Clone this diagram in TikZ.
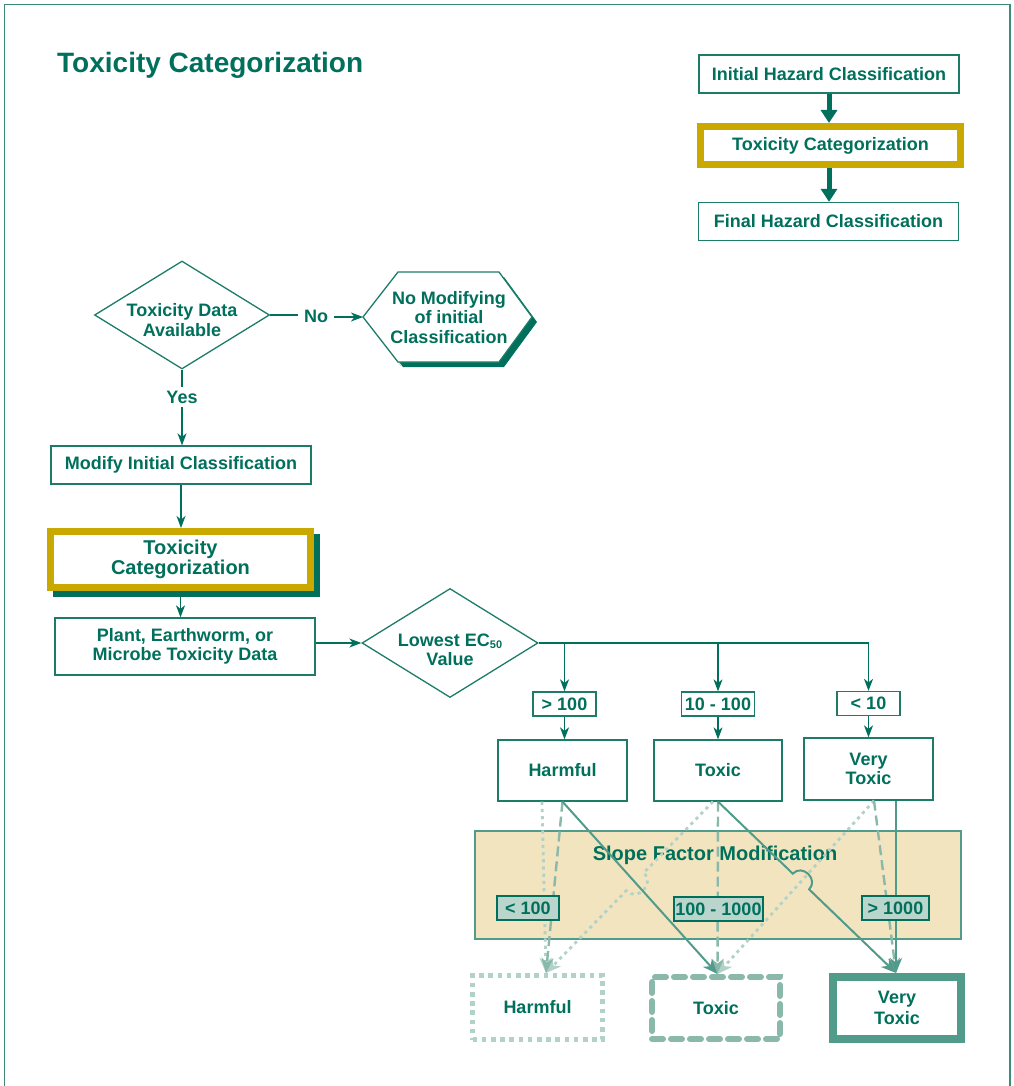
\documentclass[tikz,border=0pt]{standalone}
\usepackage{fontspec}
\setmainfont{Liberation Sans}
\usetikzlibrary{shapes.geometric,arrows.meta,calc}

\definecolor{ink}{RGB}{0,112,92}
\definecolor{edge}{RGB}{28,124,104}
\definecolor{frameline}{RGB}{60,140,120}
\definecolor{midteal}{RGB}{80,155,138}
\definecolor{dashteal}{RGB}{138,184,170}
\definecolor{dotteal}{RGB}{178,210,200}
\definecolor{goldrim}{RGB}{201,168,0}
\definecolor{sandfill}{RGB}{242,228,191}
\definecolor{chipfill}{RGB}{186,214,204}

\tikzset{
  lbl/.style={font=\bfseries\fontsize{18}{19.5}\selectfont, text=ink, align=center},
  flowbox/.style={lbl, draw=edge, line width=1.3pt, fill=white, inner sep=0pt},
  goldframe/.style={lbl, draw=goldrim, line width=7pt, fill=white, inner sep=0pt},
  decision/.style={diamond, draw=edge, line width=1.3pt, fill=white, inner sep=0pt},
  rangetag/.style={flowbox, minimum height=24pt},
  slopetag/.style={rangetag, fill=chipfill, draw=ink},
  link/.style={draw=ink, line width=1.3pt},
  linkarrow/.style={link, -{Stealth[length=12pt,width=9pt,inset=3.5pt]}},
  heavyarrow/.style={draw=ink, line width=5pt, -{Triangle[length=13pt,width=16pt]}},
  lowtip/.style={-{Stealth[length=15pt,width=12pt,inset=4.5pt]}},
  sfsolid/.style={draw=midteal, line width=2pt, lowtip},
  sfdash/.style={draw=dashteal, line width=2.4pt, dash pattern=on 10pt off 5pt, lowtip},
  sfdot/.style={draw=dotteal, line width=2.8pt, dash pattern=on 3.2pt off 4pt, lowtip},
}

\begin{document}
\begin{tikzpicture}[x=1pt,y=-1pt]
\useasboundingbox (0,0) rectangle (1013,1086);
% page frame
\draw[frameline, line width=1.2pt] (4.5,1086) -- (4.5,4.5) -- (1010,4.5) -- (1010,1086);

% heading
\node[lbl, font=\bfseries\fontsize{28}{32}\selectfont, anchor=base west, inner sep=0pt] (title) at (57,73) {Toxicity Categorization};

% overview chain
\node[flowbox, minimum width=260pt, minimum height=38pt] (ihc) at (829,74) {Initial Hazard Classification};
\node[goldframe, minimum width=260pt, minimum height=38pt] (tcg) at (830.5,145.5) {Toxicity Categorization};
\node[flowbox, minimum width=260pt, minimum height=38pt] (fhc) at (828.5,221.5) {Final Hazard Classification};
\draw[heavyarrow] (ihc.south) -- (ihc.south |- tcg.north);
\draw[heavyarrow] (tcg.south -| ihc.south) -- (ihc.south |- fhc.north);

% first decision
\node[decision, minimum width=175pt, minimum height=108pt,
      label={[lbl, yshift=-5pt]center:Toxicity Data\\Available}] (tda) at (182,315) {};
\node[lbl, inner sep=6pt] (no) at (316,316) {No};
\draw[link] (tda.east) -- (tda.east -| no.west);

% no-change outcome (hexagon with offset shadow)
\coordinate (hexW) at (363,317);
\fill[ink, shift={(5,5)}] (363,317) -- (398,272) -- (499,272) -- (532,317) -- (499,362) -- (398,362) -- cycle;
\fill[ink] (363,317) -- (398,362) -- (401,366) -- (367,321) -- cycle;
\draw[edge, line width=1.3pt, fill=white] (hexW) -- (398,272) -- (499,272) -- (532,317) -- (499,362) -- (398,362) -- cycle;
\node[lbl] (nomod) at (449,317.5) {No Modifying\\of initial\\Classification};
\draw[linkarrow] (no.east |- hexW) -- (hexW);

% yes branch
\node[lbl, inner xsep=2pt, inner ysep=3.5pt] (yes) at (182,397) {Yes};
\draw[link] (tda.south) -- (yes.north);
\node[flowbox, minimum width=260pt, minimum height=38pt] (mic) at (181,465) {Modify Initial Classification};
\draw[linkarrow] (yes.south) -- (yes.south |- mic.north);

\fill[ink] (53,534) rectangle (320,597);
\node[goldframe, font=\bfseries\fontsize{20}{20.5}\selectfont, minimum width=260pt, minimum height=56pt] (tcl) at (180.5,559.5) {Toxicity\\Categorization};
\draw[linkarrow] (mic.south) -- (mic.south |- tcl.north);

\node[flowbox, minimum width=260pt, minimum height=57pt] (pem) at (185,646.5) {Plant, Earthworm, or\\Microbe Toxicity Data};
\draw[linkarrow] (tcl.south) -- (tcl.south |- pem.north);

% EC50 decision
\node[decision, minimum width=176pt, minimum height=109pt,
      label={[lbl, yshift=-7pt]center:Lowest EC{\fontsize{11}{11}\selectfont\raisebox{-2pt}{50}}\\Value}] (ec) at (450,643) {};
\draw[linkarrow] (pem.east |- ec.west) -- (ec.west);

\node[rangetag, minimum width=63pt] (r1) at (564.5,704) {> 100};
\node[rangetag, minimum width=73pt] (r2) at (718,704) {10 - 100};
\node[rangetag, minimum width=63pt] (r3) at (868.5,703.5) {< 10};
\draw[link] (ec.east) -- (ec.east -| r3.north);
\foreach \r in {r1,r2,r3} \draw[linkarrow] (ec.east -| \r.north) -- (\r.north);

\node[flowbox, minimum width=129pt, minimum height=61pt] (hT) at (562.5,770.5) {Harmful};
\node[flowbox, minimum width=128pt, minimum height=61pt] (tT) at (718,770.5) {Toxic};
\node[flowbox, minimum width=129pt, minimum height=62pt] (vT) at (868.5,769) {Very\\Toxic};
\draw[linkarrow] (r1.south) -- (r1.south |- hT.north);
\draw[linkarrow] (r2.south) -- (r2.south |- tT.north);
\draw[linkarrow] (r3.south) -- (r3.south |- vT.north);

% slope factor band
\node[draw=midteal, fill=sandfill, line width=1.3pt, minimum width=486pt, minimum height=108pt, inner sep=0pt] (sf) at (718,885) {};
\node[lbl, font=\bfseries\fontsize{20}{22}\selectfont] (sfname) at (715,855) {Slope Factor Modification};

% final categories
\node[lbl, draw=dotteal, line width=5pt, dash pattern=on 4.6pt off 4.6pt, minimum width=130pt, minimum height=64pt, inner sep=0pt] (hB) at (537.5,1007.5) {Harmful};
\node[lbl, draw=dashteal, line width=6pt, line cap=round, dash pattern=on 11pt off 8pt, minimum width=128pt, minimum height=62pt, inner sep=0pt] (tB) at (716,1008) {Toxic};
\node[lbl, font=\bfseries\fontsize{18}{21}\selectfont, draw=midteal, line width=8pt, minimum width=128pt, minimum height=62pt, inner sep=0pt] (vB) at (897,1008) {Very\\Toxic};

% connector ends
\coordinate (hBin) at ($(hB.north)+(8.5,0)$);
\coordinate (tBin) at ($(tB.north)+(1.5,0)$);
\coordinate (vBin) at ($(vB.north)+(-1,0)$);
\coordinate (hTl) at ($(hT.south)+(-20.5,0)$);
\coordinate (tTl) at ($(tT.south)+(-5,0)$);
\coordinate (vTl) at ($(vT.south)+(5.5,0)$);
\coordinate (vTr) at ($(vT.south)+(27.5,0)$);

% dotted: step down one category
\draw[sfdot] (hTl) -- (hBin);
\path ($(tTl)!0.415!(hBin)$) coordinate (hopB1) ($(tTl)!0.52!(hBin)$) coordinate (hopB2);
\draw[sfdot] (tTl) -- (hopB1) .. controls ($(hopB1)!16pt!90:(hBin)$) and ($(hopB2)!16pt!-90:(tTl)$) .. (hopB2) -- (hBin);
\draw[sfdot] (vTl) -- (tBin);

% dashed: unchanged category
\draw[sfdash] (hT.south) -- (hBin);
\draw[sfdash] (tT.south) -- (tBin);
\draw[sfdash] (vTl) -- (vBin);

% solid: step up one category
\draw[sfsolid] (hT.south) -- (tBin);
\path ($(tT.south)!0.42!(vBin)$) coordinate (hopA1) ($(tT.south)!0.512!(vBin)$) coordinate (hopA2);
\draw[sfsolid] (tT.south) -- (hopA1) .. controls ($(hopA1)!14pt!90:(vBin)$) and ($(hopA2)!14pt!-90:(tT.south)$) .. (hopA2) -- (vBin);
\draw[sfsolid] (vTr) -- (vTr |- vB.north);

% slope ranges
\node[slopetag, minimum width=62pt] (s1) at (528,908) {< 100};
\node[slopetag, minimum width=89pt] (s2) at (718.5,909) {100 - 1000};
\node[slopetag, minimum width=67pt] (s3) at (895.5,908) {> 1000};
\end{tikzpicture}
\end{document}
